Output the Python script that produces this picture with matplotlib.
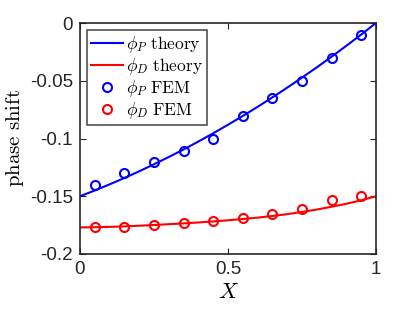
import matplotlib
matplotlib.use("Agg")
import matplotlib.pyplot as plt

plt.rcParams['mathtext.fontset'] = 'cm'
plt.rcParams['axes.unicode_minus'] = False
plt.rcParams['font.family'] = ['Liberation Sans', 'DejaVu Sans']

# theory curves
x_th = [0.0, 0.05, 0.1, 0.15, 0.2, 0.25, 0.3, 0.35, 0.4, 0.45, 0.5,
        0.55, 0.6, 0.65, 0.7, 0.75, 0.8, 0.85, 0.9, 0.95, 1.0]
phiP_th = [-0.150, -0.145, -0.1397, -0.1342, -0.1284, -0.1223, -0.1160, -0.1095,
           -0.1026, -0.0955, -0.0881, -0.0805, -0.0726, -0.0644, -0.0560, -0.0473,
           -0.0384, -0.0292, -0.0197, -0.0100, 0.0]
phiD_th = [-0.1770, -0.1768, -0.1765, -0.1761, -0.1755, -0.1749, -0.1742, -0.1735,
           -0.1727, -0.1718, -0.1708, -0.1697, -0.1685, -0.1671, -0.1655, -0.1636,
           -0.1615, -0.1591, -0.1565, -0.1535, -0.1500]

# FEM points
x_fem = [0.05, 0.15, 0.25, 0.35, 0.45, 0.55, 0.65, 0.75, 0.85, 0.95]
phiP_fem = [-0.140, -0.130, -0.1206, -0.111, -0.100, -0.0805, -0.0652, -0.050, -0.0303, -0.0101]
phiD_fem = [-0.177, -0.1766, -0.1746, -0.1732, -0.1714, -0.1686, -0.165, -0.1607, -0.1535, -0.150]

fig = plt.figure(figsize=(4.16, 3.13), dpi=100)
ax = fig.add_axes([0.1923, 0.1885, 0.7115, 0.738])

ax.plot(x_th, phiP_th, color='#0000ff', lw=1.5, label=r'$\phi_P\ \mathrm{theory}$')
ax.plot(x_th, phiD_th, color='#ff0000', lw=1.5, label=r'$\phi_D\ \mathrm{theory}$')
ax.plot(x_fem, phiP_fem, 'o', mfc='none', mec='#0000ff', ms=6.5, mew=1.5, label=r'$\phi_P\ \mathrm{FEM}$')
ax.plot(x_fem, phiD_fem, 'o', mfc='none', mec='#ff0000', ms=6.5, mew=1.5, label=r'$\phi_D\ \mathrm{FEM}$')

ax.set_xlim(0, 1)
ax.set_ylim(-0.2, 0)
ax.set_xticks([0, 0.5, 1])
ax.set_xticklabels(['0', '0.5', '1'])
ax.set_yticks([-0.2, -0.15, -0.1, -0.05, 0])
ax.set_yticklabels(['-0.2', '-0.15', '-0.1', '-0.05', '0'])
ax.tick_params(direction='in', top=True, right=True, labelsize=13.5, colors='#262626',
               length=4, pad=5)
for s in ax.spines.values():
    s.set_color('#262626')
    s.set_linewidth(1.2)

ax.set_xlabel(r'$X$', fontsize=16, labelpad=3)
ax.set_ylabel(r'$\mathrm{phase\ shift}$', fontsize=15, labelpad=3)

leg = ax.legend(loc='upper left', fontsize=12.5, frameon=True, fancybox=False,
                edgecolor='#262626', handlelength=1.8, handletextpad=0.2,
                borderpad=0.25, labelspacing=0.05, borderaxespad=0.4)
leg.get_frame().set_linewidth(1.2)

fig.savefig('out.png', dpi=100)
